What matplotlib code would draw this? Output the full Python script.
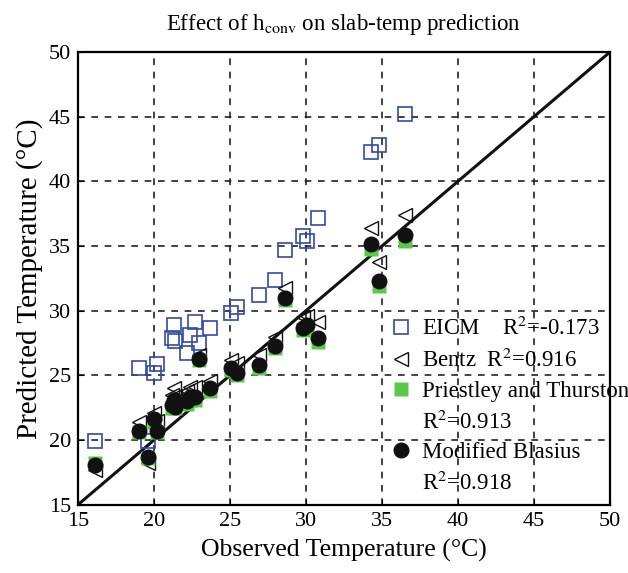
#!/usr/bin/python3
# -*- coding: utf-8 -*-
import matplotlib
matplotlib.use('Agg')
import matplotlib.pyplot as plt
from matplotlib.lines import Line2D

# observed slab temperature (deg C)
observed = [16.1, 19.0, 19.6, 20.0, 20.2, 21.2, 21.3, 21.4, 22.2, 22.4, 22.7, 23.0,
            23.7, 25.1, 25.5, 26.9, 28.0, 28.6, 29.8, 30.1, 30.8, 34.3, 34.8, 36.5]

# predicted temperatures for each model
eicm = [19.9, 25.6, 19.9, 25.2, 25.9, 27.9, 28.9, 27.7, 26.7, 28.1, 29.1, 27.5,
        28.7, 29.8, 30.3, 31.2, 32.4, 34.7, 35.8, 35.4, 37.2, 42.3, 42.8, 45.2]
bentz = [17.7, 21.4, 18.2, 22.1, 21.5, 23.5, 24.0, 23.4, 23.8, 24.1, 24.1, 26.6,
         24.6, 26.2, 26.0, 26.6, 28.0, 31.8, 29.5, 29.6, 29.1, 36.4, 33.8, 37.4]
priestley = [18.2, 20.6, 18.6, 21.4, 20.6, 22.5, 22.9, 22.5, 22.8, 23.1, 23.1, 26.2,
             23.8, 25.4, 25.0, 25.6, 27.1, 30.8, 28.5, 28.7, 27.6, 34.8, 31.9, 35.4]
blasius = [18.1, 20.7, 18.7, 21.6, 20.7, 22.7, 23.1, 22.6, 23.0, 23.3, 23.3, 26.3,
           24.0, 25.6, 25.2, 25.8, 27.3, 31.0, 28.7, 28.9, 27.9, 35.2, 32.3, 35.9]

names = ['EICM    R$^2$=-0.173', 'Bentz  R$^2$=0.916',
         'Priestley and Thurston', 'Modified Blasius']
r2_lines = ['R$^2$=0.913', 'R$^2$=0.918']

ticks = [15, 20, 25, 30, 35, 40, 45, 50]


def main():
    plt.rcParams['font.family'] = ['Liberation Serif', 'DejaVu Serif']
    plt.rcParams['mathtext.fontset'] = 'stix'

    fig = plt.figure(figsize=(6.28, 5.73), dpi=100)
    ax = fig.add_axes([0.124, 0.119, 0.847, 0.790])

    ax.plot([15, 50], [15, 50], color='#111111', lw=2.2, zorder=2)

    h1, = ax.plot(observed, eicm, 's', ms=9.5, mfc='none', mec='#3448a8', mew=1.2, zorder=3)
    h2, = ax.plot(observed, bentz, '<', ms=10, mfc='none', mec='#111111', mew=1.0, zorder=3)
    h3, = ax.plot(observed, priestley, 's', ms=9.5, mfc='#5cc84a', mec='none', zorder=4)
    h4, = ax.plot(observed, blasius, 'o', ms=10.5, mfc='#111111', mec='#111111', zorder=5)

    ax.set_xlim(15, 50)
    ax.set_ylim(15, 50)
    ax.set_xticks(ticks)
    ax.set_yticks(ticks)
    ax.tick_params(direction='in', length=4, labelsize=16, pad=5)
    ax.grid(True, color='#222222', linestyle=(0, (4, 4)), linewidth=1.2)
    for s in ax.spines.values():
        s.set_linewidth(1.6)

    ax.set_xlabel('Observed Temperature (°C)', fontsize=18.5, labelpad=6)
    ax.set_ylabel('Predicted Temperature (°C)', fontsize=21, labelpad=4)
    ax.set_title(r'Effect of h$_{\rm conv}$ on slab-temp prediction', fontsize=16.5, pad=16)

    # second line of the last two entries gets an empty handle
    blank = Line2D([], [], linestyle='none', marker='none')
    handles = [h1, h2, h3, blank, h4, blank]
    labels = [names[0], names[1], names[2], r2_lines[0], names[3], r2_lines[1]]
    leg = ax.legend(handles, labels, loc='upper left', bbox_to_anchor=(0.585, 0.415),
                    frameon=False, fontsize=16.5, handlelength=1.0, handletextpad=0.45,
                    labelspacing=0.38, borderaxespad=0, borderpad=0)
    leg.set_zorder(6)

    fig.savefig('out.png', dpi=100)
    return


if __name__ == '__main__':
    main()
